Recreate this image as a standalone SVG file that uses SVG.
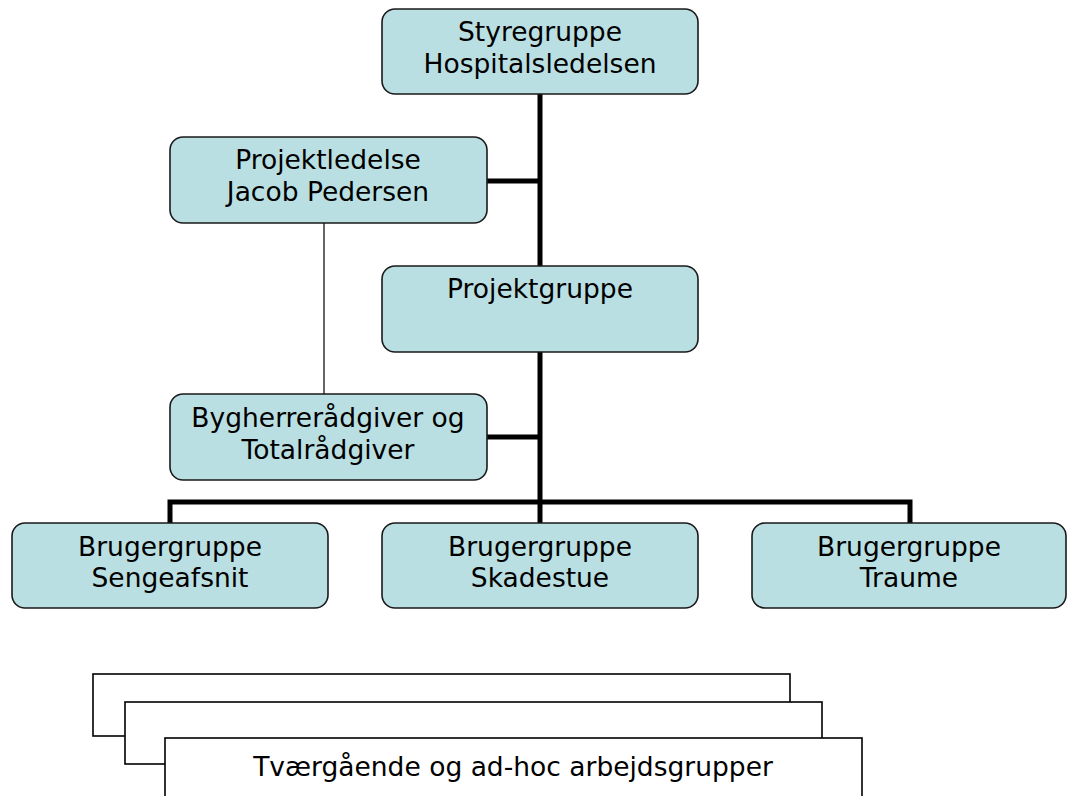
<svg xmlns="http://www.w3.org/2000/svg" width="1067" height="796" viewBox="0 0 1067 796">
<style>
.box{fill:#badfe2;stroke:#1a1a1a;stroke-width:1.6}
.card{fill:#ffffff;stroke:#000;stroke-width:1.6}
.t{font-family:"DejaVu Sans",Verdana,sans-serif;font-size:26.5px;fill:#000;text-anchor:middle}
.thick{stroke:#000;stroke-width:5;fill:none}
.thin{stroke:#000;stroke-width:1.2;fill:none}
</style>
<rect width="1067" height="796" fill="#fff"/>
<g id="connectors">
<line class="thick" x1="540" y1="94" x2="540" y2="502"/>
<line class="thick" x1="487" y1="181" x2="540" y2="181"/>
<line class="thick" x1="487" y1="437" x2="540" y2="437"/>
<polyline class="thick" points="170,523 170,502 910,502 910,523"/>
<line class="thick" x1="540" y1="500" x2="540" y2="523"/>
<line class="thin" x1="324" y1="223" x2="324" y2="394"/>
</g>
<g id="styregruppe">
<rect class="box" x="382" y="9" width="316" height="85" rx="13"/>
<text class="t" x="540" y="41">Styregruppe</text>
<text class="t" x="540" y="73">Hospitalsledelsen</text>
</g>
<g id="projektledelse">
<rect class="box" x="170" y="137" width="317" height="86" rx="13"/>
<text class="t" x="328" y="169">Projektledelse</text>
<text class="t" x="328" y="201">Jacob Pedersen</text>
</g>
<g id="projektgruppe">
<rect class="box" x="382" y="266" width="316" height="86" rx="13"/>
<text class="t" x="540" y="298">Projektgruppe</text>
</g>
<g id="bygherre">
<rect class="box" x="170" y="394" width="317" height="86" rx="13"/>
<text class="t" x="328" y="427">Bygherrerådgiver og</text>
<text class="t" x="328" y="459">Totalrådgiver</text>
</g>
<g id="sengeafsnit">
<rect class="box" x="12" y="523" width="316" height="85" rx="13"/>
<text class="t" x="170" y="556">Brugergruppe</text>
<text class="t" x="170" y="587">Sengeafsnit</text>
</g>
<g id="skadestue">
<rect class="box" x="382" y="523" width="316" height="85" rx="13"/>
<text class="t" x="540" y="556">Brugergruppe</text>
<text class="t" x="540" y="587">Skadestue</text>
</g>
<g id="traume">
<rect class="box" x="752" y="523" width="314" height="85" rx="13"/>
<text class="t" x="909" y="556">Brugergruppe</text>
<text class="t" x="909" y="587">Traume</text>
</g>
<g id="arbejdsgrupper">
<rect class="card" x="93" y="674" width="697" height="62"/>
<rect class="card" x="125" y="702" width="697" height="62"/>
<rect class="card" x="165" y="738" width="697" height="70"/>
<text class="t" x="513" y="776">Tværgående og ad-hoc arbejdsgrupper</text>
</g>
</svg>
